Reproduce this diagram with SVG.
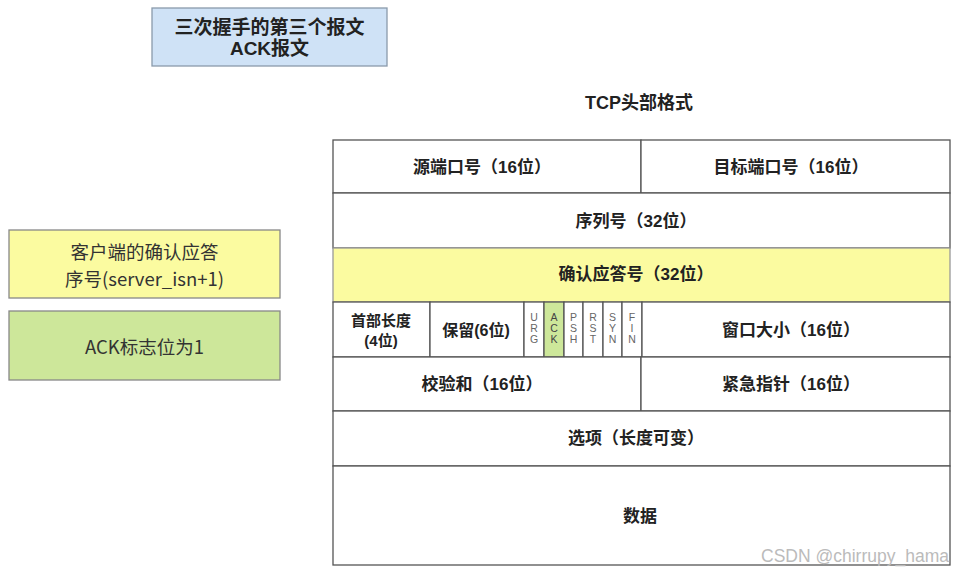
<svg xmlns="http://www.w3.org/2000/svg" width="957" height="573" viewBox="0 0 957 573">
<style>
.c{fill:#fff;stroke:#555;stroke-width:1.3}
.t{font-family:"Liberation Sans","Noto Sans CJK SC",sans-serif;font-weight:bold;font-size:17px;fill:#222;text-anchor:middle;dominant-baseline:central}
.f{font-family:"Liberation Sans",sans-serif;font-size:10.5px;fill:#666;text-anchor:middle}
.n{font-family:"Noto Sans CJK SC","Liberation Sans",sans-serif;font-size:18.5px;fill:#333;text-anchor:middle;dominant-baseline:central}
</style>
<rect width="957" height="573" fill="#fff"/>
<g id="title">
<rect x="152" y="8" width="235" height="58" fill="#cfe2f6" stroke="#8a9aab" stroke-width="1.3"/>
<text class="t" x="269.5" y="27" style="font-size:19px">三次握手的第三个报文</text>
<text class="t" x="269.5" y="48" style="font-size:19px">ACK报文</text>
</g>
<g id="ack-seq-note">
<rect x="9" y="230" width="271" height="68" fill="#fbfba0" stroke="#888" stroke-width="1.3"/>
<text class="n" x="144.5" y="251">客户端的确认应答</text>
<text class="n" x="144.5" y="278">序号(server_isn+1)</text>
</g>
<g id="ack-flag-note">
<rect x="9" y="311" width="271" height="69" fill="#cde79a" stroke="#888" stroke-width="1.3"/>
<text class="n" x="144.5" y="346">ACK标志位为1</text>
</g>
<g id="tcp-header">
<text class="t" x="639" y="103" style="font-size:18px">TCP头部格式</text>
<g id="row1">
<rect class="c" x="333" y="140" width="308" height="53"/>
<text class="t" x="482" y="167">源端口号（16位）</text>
<rect class="c" x="641" y="140" width="309" height="53"/>
<text class="t" x="791" y="167">目标端口号（16位）</text>
</g>
<g id="row2">
<rect class="c" x="333" y="193" width="617" height="55"/>
<text class="t" x="636" y="221">序列号（32位）</text>
</g>
<g id="row3">
<rect x="333" y="248" width="617" height="54" fill="#fbfba0" stroke="#999" stroke-width="1.3"/>
<text class="t" x="636" y="274">确认应答号（32位）</text>
</g>
<g id="row4">
<rect class="c" x="333" y="302" width="97" height="55"/>
<text class="t" x="381" y="320" style="font-size:15px">首部长度</text>
<text class="t" x="381" y="340" style="font-size:15px">(4位)</text>
<rect class="c" x="430" y="302" width="94" height="55"/>
<text class="t" x="476" y="330" style="font-size:16px">保留(6位)</text>
<rect class="c" x="524" y="302" width="20" height="55" fill="#fafafa"/>
<rect x="544" y="302" width="20" height="55" fill="#cde79a" stroke="#555" stroke-width="1.3"/>
<rect class="c" x="564" y="302" width="19" height="55"/>
<rect class="c" x="583" y="302" width="20" height="55" fill="#f6f6f6"/>
<rect class="c" x="603" y="302" width="19" height="55" fill="#f8f8f8"/>
<rect class="c" x="622" y="302" width="20" height="55"/>
<text class="f" x="534" y="321">U</text><text class="f" x="534" y="332">R</text><text class="f" x="534" y="343">G</text>
<text class="f" x="554" y="321" style="fill:#444">A</text><text class="f" x="554" y="332" style="fill:#444">C</text><text class="f" x="554" y="343" style="fill:#444">K</text>
<text class="f" x="573.5" y="321">P</text><text class="f" x="573.5" y="332">S</text><text class="f" x="573.5" y="343">H</text>
<text class="f" x="593" y="321">R</text><text class="f" x="593" y="332">S</text><text class="f" x="593" y="343">T</text>
<text class="f" x="612.5" y="321">S</text><text class="f" x="612.5" y="332">Y</text><text class="f" x="612.5" y="343">N</text>
<text class="f" x="632" y="321">F</text><text class="f" x="632" y="332">I</text><text class="f" x="632" y="343">N</text>
<rect class="c" x="642" y="302" width="308" height="55"/>
<text class="t" x="791" y="330">窗口大小（16位）</text>
</g>
<g id="row5">
<rect class="c" x="333" y="357" width="308" height="54"/>
<text class="t" x="482" y="384">校验和（16位）</text>
<rect class="c" x="641" y="357" width="309" height="54"/>
<text class="t" x="791" y="384">紧急指针（16位）</text>
</g>
<g id="row6">
<rect class="c" x="333" y="411" width="617" height="55"/>
<text class="t" x="636" y="438">选项（长度可变）</text>
</g>
<g id="row7">
<rect class="c" x="333" y="466" width="617" height="99"/>
<text class="t" x="640" y="516">数据</text>
</g>
</g>
<g id="connectors"></g>
<text x="949" y="562" font-family="Liberation Sans,sans-serif" font-size="17.5" fill="#bbb" text-anchor="end">CSDN @chirrupy_hama</text>
</svg>
